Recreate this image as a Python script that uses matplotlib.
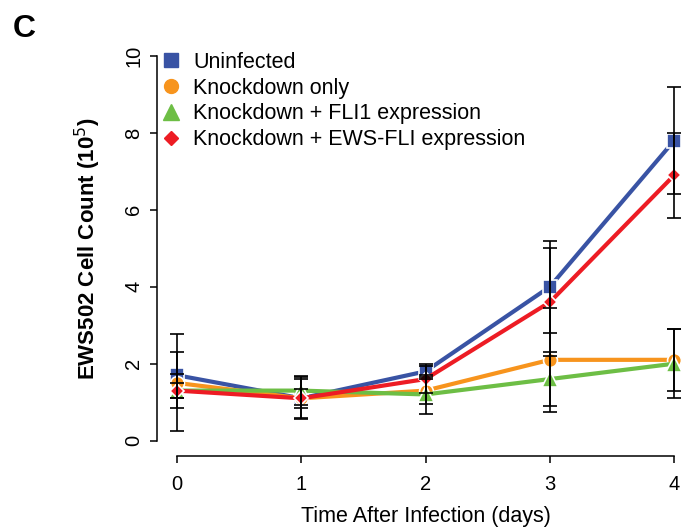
import matplotlib
matplotlib.use("Agg")
import matplotlib.pyplot as plt
from matplotlib.lines import Line2D

plt.rcParams['font.family'] = ['Liberation Sans', 'DejaVu Sans']

# days after infection and mean cell counts (x 10^5) with error bars
days = [0, 1, 2, 3, 4]
uninfected = [1.7, 1.1, 1.8, 4.0, 7.8]
uninfected_err = [0.6, 0.55, 0.2, 1.2, 1.4]
kd_only = [1.5, 1.1, 1.3, 2.1, 2.1]
kd_only_err = [1.26, 0.5, 0.35, 1.36, 0.8]
kd_fli1 = [1.3, 1.3, 1.2, 1.6, 2.0]
kd_fli1_err = [0.44, 0.37, 0.5, 0.7, 0.9]
kd_ewsfli = [1.3, 1.1, 1.6, 3.6, 6.9]
kd_ewsfli_err = [0.2, 0.25, 0.35, 1.4, 1.1]

labels = ['Uninfected', 'Knockdown only', 'Knockdown + FLI1 expression',
          'Knockdown + EWS-FLI expression']
colors = ['#3953A4', '#F7941D', '#6DBE45', '#ED1C24']
markers = ['s', 'o', '^', 'D']
msizes = [9.5, 10, 11, 7]

fig = plt.figure(figsize=(6.83, 5.29), dpi=100)
ax = fig.add_axes([0.2299, 0.138, 0.7863, 0.7853])

series = [(uninfected, uninfected_err), (kd_only, kd_only_err),
          (kd_fli1, kd_fli1_err), (kd_ewsfli, kd_ewsfli_err)]

for (vals, err), c, m, ms in zip(series, colors, markers, msizes):
    ax.plot(days, vals, color=c, lw=3, marker=m, ms=ms,
            mec='white', mew=1.2, zorder=2)

# error bars sit on top of the lines
for vals, err in series:
    ax.errorbar(days, vals, yerr=err, fmt='none', ecolor='black',
                elinewidth=1.2, capsize=5, capthick=1.2, zorder=3)

ax.set_xlim(-0.16, 4.16)
ax.set_ylim(-0.4, 10.4)
for s in ['top', 'right']:
    ax.spines[s].set_visible(False)
ax.spines['left'].set_bounds(0, 10)
ax.spines['bottom'].set_bounds(0, 4)
ax.spines['left'].set_linewidth(1.1)
ax.spines['bottom'].set_linewidth(1.1)

ax.set_xticks(days)
ax.set_yticks([0, 2, 4, 6, 8, 10])
ax.tick_params(axis='both', length=5, width=1.1, labelsize=14.5)
ax.tick_params(axis='x', pad=9)
ax.tick_params(axis='y', pad=5)
plt.setp(ax.get_yticklabels(), rotation=90, va='center')

ax.set_xlabel('Time After Infection (days)', fontsize=15.5, labelpad=8.5)
ax.set_ylabel('EWS502 Cell Count (10$^5$)', fontsize=16,
              fontweight='bold', labelpad=15)

handles = [Line2D([], [], color=c, marker=m, ls='none', ms=ms)
           for c, m, ms in zip(colors, markers, msizes)]
leg = ax.legend(handles, labels, loc='upper left', frameon=False,
                bbox_to_anchor=(160 / 683, 1 - 52 / 529),
                bbox_transform=fig.transFigure,
                fontsize=15.5, handletextpad=0.55, labelspacing=0.22,
                handlelength=1.0, borderaxespad=0, borderpad=0)

fig.text(0.018, 0.93, 'C', fontsize=23, fontweight='bold')

fig.savefig('out.png', dpi=100)
